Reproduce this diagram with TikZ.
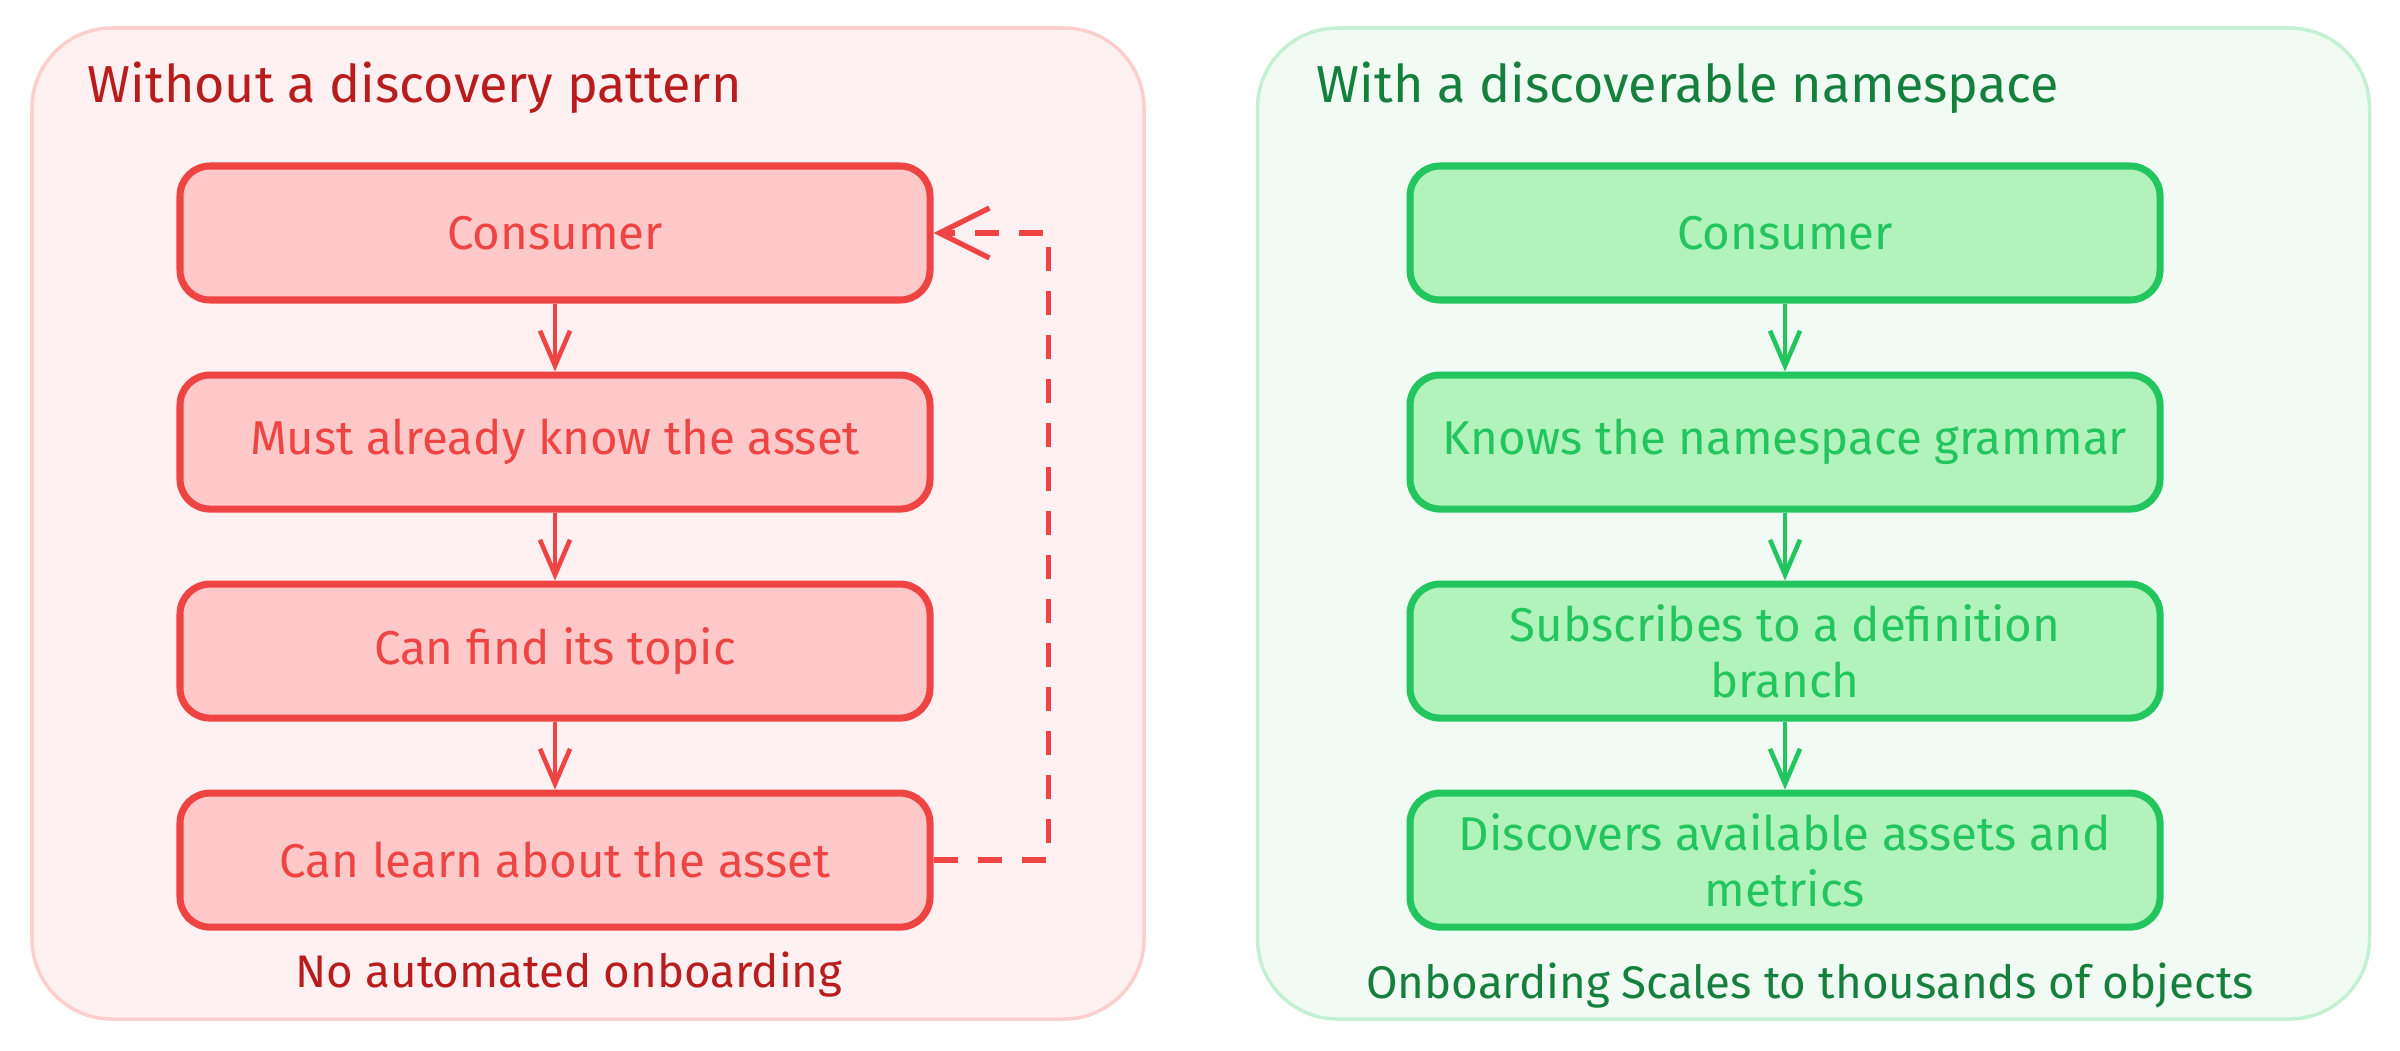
\documentclass[tikz,border=0pt]{standalone}
\usepackage{fontspec}
\setmainfont{Fira Sans}
\usepackage{tikz}
\usetikzlibrary{arrows.meta, positioning}

\definecolor{redline}{HTML}{EF4444}
\definecolor{redfill}{HTML}{FFC9C9}
\definecolor{redpanel}{HTML}{FFF0F1}
\definecolor{redframe}{HTML}{FCCFCF}
\definecolor{redtitle}{HTML}{B91C1C}
\definecolor{greenline}{HTML}{22C55E}
\definecolor{greenfill}{HTML}{B2F2BB}
\definecolor{greenpanel}{HTML}{F1FBF4}
\definecolor{greenframe}{HTML}{C6F0D3}
\definecolor{greentitle}{HTML}{15803D}

\begin{document}
\begin{tikzpicture}[
                node distance=0.68cm,
                panel/.style={rounded corners=0.8cm, line width=1pt, minimum width=11.12cm, minimum height=9.91cm},
                box/.style={draw, rounded corners=0.3cm, line width=2pt, minimum width=7.5cm, minimum height=1.34cm, align=center, font=\fontsize{13.5}{16}\selectfont},
                title/.style={anchor=base west, inner sep=0pt, font=\fontsize{14.8}{17}\selectfont},
                note/.style={anchor=base, inner sep=0pt, font=\fontsize{13}{16}\selectfont},
                flow/.style={-{Straight Barb[length=0.35cm,width=0.3cm]}, line width=1.3pt}
            ]
                \useasboundingbox (0,0) rectangle (24,-10.5);

                % panels
                \node[panel, draw=redframe, fill=redpanel] (left) at (5.88,-5.235) {};
                \node[panel, draw=greenframe, fill=greenpanel] (right) at (18.135,-5.235) {};
                \node[title, text=redtitle] (lefttitle) at (0.87,-1.02) {Without a discovery pattern};
                \node[title, text=greentitle] (righttitle) at (13.16,-1.02) {With a discoverable namespace};

                % without discovery
                \node[box, draw=redline, fill=redfill, text=redline] (lcons) at (5.55,-2.33) {Consumer};
                \node[box, below=of lcons, draw=redline, fill=redfill, text=redline] (know) {Must already know the asset};
                \node[box, below=of know, draw=redline, fill=redfill, text=redline] (find) {Can find its topic};
                \node[box, below=of find, draw=redline, fill=redfill, text=redline] (learn) {Can learn about the asset};
                \node[note, text=redtitle] (leftnote) at (5.69,-9.87) {No automated onboarding};

                \draw[flow, redline] (lcons) -- (know);
                \draw[flow, redline] (know) -- (find);
                \draw[flow, redline] (find) -- (learn);
                \draw[-{Straight Barb[length=0.5cm,width=0.5cm]}, line width=1.5pt, redline, dash pattern=on 0.24cm off 0.2cm]
                    (learn.east) -- ++(1.15,0) |- (lcons.east);

                % with discoverable namespace
                \node[box, draw=greenline, fill=greenfill, text=greenline] (rcons) at (17.85,-2.33) {Consumer};
                \node[box, below=of rcons, draw=greenline, fill=greenfill, text=greenline] (grammar) {Knows the namespace grammar};
                \node[box, below=of grammar, draw=greenline, fill=greenfill, text=greenline] (branch) {Subscribes to a definition\\branch};
                \node[box, below=of branch, draw=greenline, fill=greenfill, text=greenline] (assets) {Discovers available assets and\\metrics};
                \node[note, text=greentitle] (rightnote) at (18.1,-9.98) {Onboarding Scales to thousands of objects};

                \draw[flow, greenline] (rcons) -- (grammar);
                \draw[flow, greenline] (grammar) -- (branch);
                \draw[flow, greenline] (branch) -- (assets);
            \end{tikzpicture}
\end{document}
